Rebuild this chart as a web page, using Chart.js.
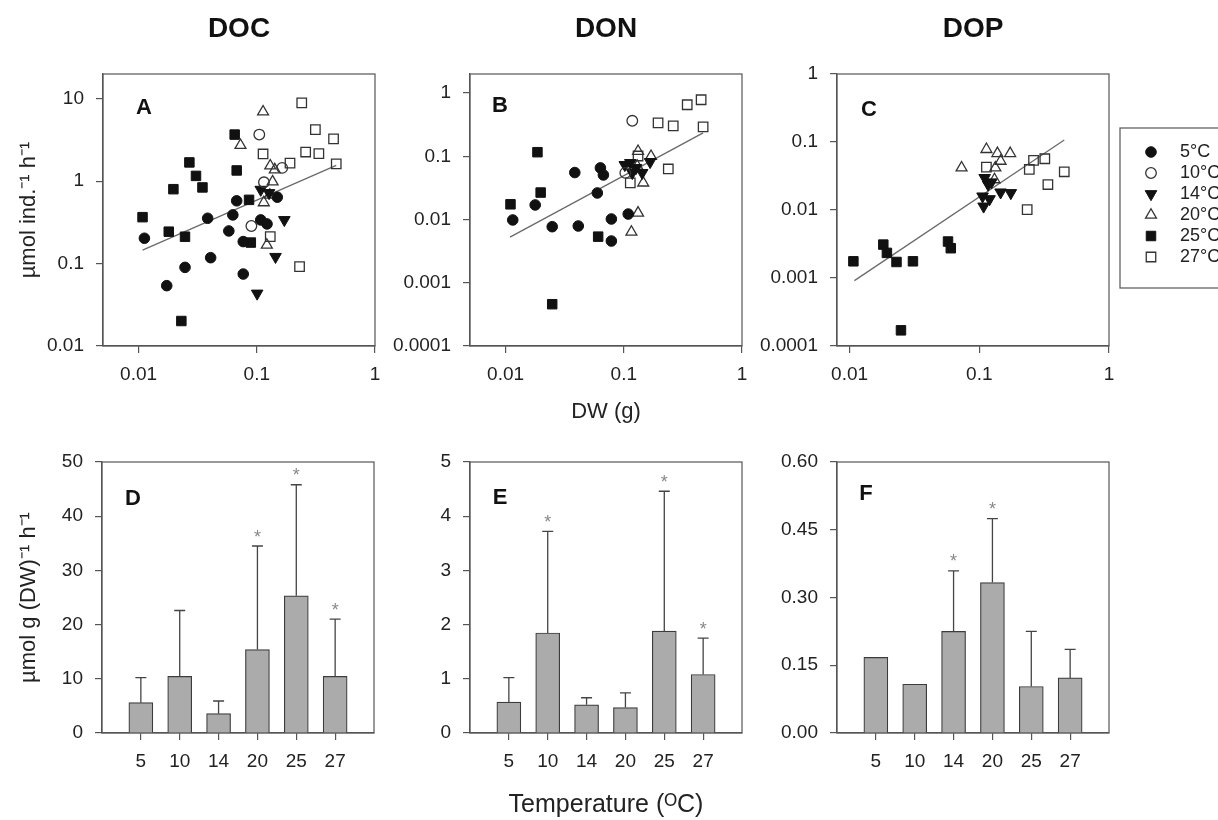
<!DOCTYPE html>
<html>
<head>
<meta charset="utf-8">
<script src="https://cdn.jsdelivr.net/npm/chart.js@4.4.1/dist/chart.umd.min.js"></script>
<style>
  html, body { margin: 0; padding: 0; background: #fff; }
  body { width: 1218px; height: 820px; position: relative; overflow: hidden; }
  canvas { position: absolute; }
</style>
</head>
<body>
<canvas id="panelA" width="415" height="440" style="left:0px;top:0px"></canvas>
<canvas id="panelB" width="402" height="440" style="left:380px;top:0px"></canvas>
<canvas id="panelC" width="490" height="440" style="left:728px;top:0px"></canvas>
<canvas id="panelD" width="414" height="400" style="left:0px;top:420px"></canvas>
<canvas id="panelE" width="402" height="400" style="left:380px;top:420px"></canvas>
<canvas id="panelF" width="421" height="400" style="left:728px;top:420px"></canvas>
<script>
Chart.defaults.font.family = "'Liberation Sans', Arial, sans-serif";
Chart.defaults.color = '#222';

//groups and categories
var groups = ['5°C', '10°C', '14°C', '20°C', '25°C', '27°C'];
var temps = ['5', '10', '14', '20', '25', '27'];

//tick labels
var dwTicks = [0.01, 0.1, 1];
var docTicks = [0.01, 0.1, 1, 10];
var donTicks = [0.0001, 0.001, 0.01, 0.1, 1];
var dopTicks = [0.0001, 0.001, 0.01, 0.1, 1];
var docBarTicks = [0, 10, 20, 30, 40, 50];
var donBarTicks = [0, 1, 2, 3, 4, 5];
var dopBarTicks = [0, 0.15, 0.30, 0.45, 0.60];

//DOC release vs dry weight [DW g, umol ind-1 h-1]
var doc5 = [[0.0112, 0.203], [0.0173, 0.054], [0.0247, 0.090], [0.0384, 0.355], [0.0407, 0.118], [0.058, 0.249], [0.0627, 0.39], [0.0676, 0.578], [0.0768, 0.0747], [0.0768, 0.185], [0.108, 0.339], [0.122, 0.303], [0.149, 0.64]];
var doc10 = [[0.105, 3.68], [0.090, 0.286], [0.115, 0.97], [0.164, 1.45]];
var doc14 = [[0.108, 0.79], [0.127, 0.72], [0.171, 0.339], [0.144, 0.121], [0.1007, 0.0434]];
var doc20 = [[0.113, 6.95], [0.0728, 2.73], [0.130, 1.54], [0.142, 1.38], [0.136, 0.985], [0.1146, 0.55], [0.1216, 0.168], [0.129, 0.68]];
var doc25 = [[0.0108, 0.366], [0.0197, 0.80], [0.018, 0.244], [0.0247, 0.212], [0.0269, 1.69], [0.0306, 1.16], [0.0347, 0.84], [0.023, 0.0201], [0.065, 3.68], [0.0676, 1.35], [0.086, 0.594], [0.089, 0.18]];
var doc27 = [[0.24, 8.94], [0.313, 4.23], [0.446, 3.26], [0.113, 2.14], [0.259, 2.26], [0.335, 2.16], [0.191, 1.66], [0.47, 1.62], [0.130, 0.212], [0.23, 0.0917]];
var docFitX = [0.0108, 0.47];
var docFitY = [0.146, 1.56];

//DON
var don5 = [[0.0115, 0.00984], [0.0178, 0.017], [0.0248, 0.0077], [0.0385, 0.0553], [0.0412, 0.0079], [0.0597, 0.0263], [0.0634, 0.0655], [0.0672, 0.0507], [0.0785, 0.0102], [0.0785, 0.00457], [0.109, 0.0122]];
var don10 = [[0.118, 0.364], [0.103, 0.0546]];
var don14 = [[0.102, 0.073], [0.1135, 0.0786], [0.118, 0.0546], [0.143, 0.0546], [0.167, 0.0815], [0.127, 0.0655]];
var don20 = [[0.132, 0.0127], [0.116, 0.00634], [0.132, 0.12], [0.17, 0.10], [0.146, 0.038], [0.13, 0.07]];
var don25 = [[0.011, 0.0174], [0.0186, 0.116], [0.0198, 0.0267], [0.0248, 0.000458], [0.0607, 0.00536]];
var don27 = [[0.195, 0.338], [0.262, 0.303], [0.344, 0.653], [0.451, 0.783], [0.469, 0.292], [0.238, 0.063], [0.1135, 0.038], [0.132, 0.101]];
var donFitX = [0.0109, 0.469];
var donFitY = [0.00528, 0.235];

//DOP
var dop5 = [];
var dop10 = [];
var dop14 = [[0.106, 0.0159], [0.108, 0.0113], [0.12, 0.0145], [0.11, 0.0297], [0.124, 0.0256], [0.146, 0.0182], [0.175, 0.0178], [0.117, 0.0237]];
var dop20 = [[0.073, 0.0418], [0.1135, 0.078], [0.138, 0.068], [0.173, 0.068], [0.146, 0.0524], [0.133, 0.0418], [0.131, 0.028]];
var dop25 = [[0.0107, 0.00176], [0.0182, 0.0031], [0.0194, 0.00234], [0.023, 0.00172], [0.0308, 0.00176], [0.0249, 0.00017], [0.0574, 0.00344], [0.0603, 0.00274]];
var dop27 = [[0.1135, 0.0427], [0.243, 0.0395], [0.262, 0.0536], [0.32, 0.0567], [0.452, 0.0365], [0.338, 0.0237], [0.234, 0.0101]];
var dopFitX = [0.0109, 0.452];
var dopFitY = [0.000914, 0.107];

//weight specific release by temperature: mean, upper error, significance
var docMean = [5.6, 10.45, 3.57, 15.4, 25.3, 10.45];
var docUpper = [10.2, 22.6, 5.9, 34.5, 45.8, 21.0];
var docSig = [0, 0, 0, 1, 1, 1];
var donMean = [0.57, 1.845, 0.52, 0.47, 1.88, 1.08];
var donUpper = [1.02, 3.72, 0.65, 0.74, 4.46, 1.75];
var donSig = [0, 1, 0, 0, 1, 1];
var dopMean = [0.1675, 0.108, 0.225, 0.333, 0.103, 0.122];
var dopUpper = [null, null, 0.359, 0.4745, 0.225, 0.185];
var dopSig = [0, 0, 1, 1, 0, 0];

var markers = [
  { style: 'circle', radius: 5.3, rotation: 0, fill: '#111', line: '#111', width: 1 },
  { style: 'circle', radius: 5.3, rotation: 0, fill: 'rgba(255,255,255,0)', line: '#333', width: 1.3 },
  { style: 'triangle', radius: 6.7, rotation: 180, fill: '#111', line: '#111', width: 1 },
  { style: 'triangle', radius: 6.3, rotation: 0, fill: 'rgba(255,255,255,0)', line: '#333', width: 1.3 },
  { style: 'rect', radius: 6.7, rotation: 0, fill: '#111', line: '#111', width: 1 },
  { style: 'rect', radius: 6.7, rotation: 0, fill: 'rgba(255,255,255,0)', line: '#333', width: 1.3 }
];

//box around plot area
var frame = {
  id: 'frame',
  beforeDatasetsDraw: function (chart) {
    var a = chart.chartArea, ctx = chart.ctx;
    ctx.save();
    ctx.strokeStyle = '#555';
    ctx.lineWidth = 1.2;
    ctx.strokeRect(a.left, a.top, a.right - a.left, a.bottom - a.top);
    ctx.restore();
  }
};

//A, B, C ... in the corner
var panelLetter = {
  id: 'panelLetter',
  afterDraw: function (chart, args, opts) {
    var a = chart.chartArea, ctx = chart.ctx;
    ctx.save();
    ctx.font = 'bold 22px "Liberation Sans", Arial, sans-serif';
    ctx.fillStyle = '#111';
    ctx.textAlign = 'center';
    ctx.textBaseline = 'middle';
    ctx.fillText(opts.text, a.left + opts.dx, a.top + opts.dy);
    ctx.restore();
  }
};

//boxed legend next to panel C
var legendBox = {
  id: 'legendBox',
  afterDraw: function (chart, args, opts) {
    if (!opts.show) return;
    var ctx = chart.ctx;
    ctx.save();
    ctx.strokeStyle = '#555';
    ctx.lineWidth = 1.2;
    ctx.strokeRect(opts.x, opts.y, opts.w, opts.h);
    ctx.font = '18px "Liberation Sans", Arial, sans-serif';
    ctx.textBaseline = 'middle';
    ctx.textAlign = 'left';
    chart.data.datasets.forEach(function (ds, i) {
      if (ds.isFit) return;
      var y = opts.y + opts.first + i * opts.step;
      ctx.fillStyle = ds.pointBackgroundColor;
      ctx.strokeStyle = ds.pointBorderColor;
      ctx.lineWidth = ds.pointBorderWidth;
      Chart.helpers.drawPoint(ctx, {
        pointStyle: ds.pointStyle, radius: ds.pointRadius,
        rotation: ds.pointRotation, borderWidth: ds.pointBorderWidth
      }, opts.x + opts.mx, y);
      ctx.fillStyle = '#222';
      ctx.fillText(ds.label, opts.x + opts.tx, y);
    });
    ctx.restore();
  }
};

//upper error bars and asterisks
var errorBars = {
  id: 'errorBars',
  afterDatasetsDraw: function (chart, args, opts) {
    var meta = chart.getDatasetMeta(0);
    var ys = chart.scales.y;
    var ctx = chart.ctx;
    ctx.save();
    ctx.strokeStyle = '#444';
    ctx.lineWidth = 1.3;
    ctx.font = '18px "Liberation Sans", Arial, sans-serif';
    ctx.textAlign = 'center';
    ctx.textBaseline = 'alphabetic';
    ctx.fillStyle = '#888';
    opts.upper.forEach(function (u, i) {
      var bar = meta.data[i + 1];
      if (u == null || !bar) return;
      var top = ys.getPixelForValue(u);
      ctx.beginPath();
      ctx.moveTo(bar.x, bar.y);
      ctx.lineTo(bar.x, top);
      ctx.moveTo(bar.x - 5.5, top);
      ctx.lineTo(bar.x + 5.5, top);
      ctx.stroke();
      if (opts.sig[i]) ctx.fillText('*', bar.x, top - 3.5);
    });
    ctx.restore();
  }
};

function axis(pos, size, title, titlePad, titleSize) {
  return {
    position: pos,
    grid: { drawOnChartArea: false, drawTicks: true, tickLength: 7, color: '#555', lineWidth: 1.2, offset: false },
    border: { display: true, color: '#555', width: 1.2 },
    ticks: { font: { size: 19 }, color: '#222', padding: pos === 'left' ? 12 : 10, maxRotation: 0, autoSkip: false },
    title: {
      display: !!title, text: title || '', color: '#222',
      font: { size: titleSize || 22 }, padding: titlePad || 0
    },
    afterFit: function (s) {
      if (pos === 'left') s.width = size; else s.height = size;
    }
  };
}

function fixedTicks(values) {
  return function (s) {
    s.ticks = values.map(function (v) { return { value: v }; });
  };
}

function scatterPanel(id, o) {
  var datasets = o.points.map(function (pts, i) {
    var m = markers[i];
    return {
      label: groups[i],
      data: pts.map(function (p) { return { x: p[0], y: p[1] }; }),
      pointStyle: m.style,
      pointRadius: m.radius,
      pointRotation: m.rotation,
      pointBackgroundColor: m.fill,
      pointBorderColor: m.line,
      pointBorderWidth: m.width
    };
  });
  datasets.push({
    label: 'fit',
    isFit: true,
    data: o.fitX.map(function (x, i) { return { x: x, y: o.fitY[i] }; }),
    showLine: true,
    borderColor: '#6a6a6a',
    borderWidth: 1.3,
    pointRadius: 0
  });

  var x = axis('bottom', 94, o.xTitle, { top: 0, bottom: 14.8 });
  x.type = 'logarithmic';
  x.min = o.xMin;
  x.max = 1;
  x.afterBuildTicks = fixedTicks(dwTicks);
  x.ticks.callback = function (v) { return String(v); };

  var y = axis('left', o.yWidth, o.yTitle, { top: 16, bottom: 0 });
  y.type = 'logarithmic';
  y.min = o.yMin;
  y.max = o.yMax;
  y.afterBuildTicks = fixedTicks(o.yTicks);
  y.ticks.callback = function (v) { return String(v); };

  return new Chart(document.getElementById(id), {
    type: 'scatter',
    data: { datasets: datasets },
    plugins: [frame, panelLetter, legendBox],
    options: {
      responsive: false,
      animation: false,
      events: [],
      layout: { padding: { left: 0, top: 0, bottom: 0, right: o.padRight } },
      plugins: {
        legend: { display: false },
        tooltip: { enabled: false },
        title: {
          display: true, text: o.title, fullSize: false, color: '#111',
          font: { size: 28, weight: 'bold' }, padding: { top: 12, bottom: 28.4 }
        },
        panelLetter: { text: o.letter, dx: o.letterPos[0], dy: o.letterPos[1] },
        legendBox: o.legend || { show: false }
      },
      scales: { x: x, y: y }
    }
  });
}

function barPanel(id, o) {
  var labels = [''].concat(temps, ['']);
  var x = axis('bottom', 87, o.xTitle, { top: 0, bottom: 0 }, 25);
  x.type = 'category';
  x.offset = false;
  x.afterBuildTicks = function (s) { s.ticks = s.ticks.slice(1, -1); };

  var y = axis('left', o.yWidth, o.yTitle, { top: 16, bottom: 0 });
  y.type = 'linear';
  y.min = 0;
  y.max = o.yTicks[o.yTicks.length - 1];
  y.afterBuildTicks = fixedTicks(o.yTicks);
  y.ticks.callback = function (v) { return o.decimals ? v.toFixed(o.decimals) : String(v); };

  return new Chart(document.getElementById(id), {
    type: 'bar',
    data: {
      labels: labels,
      datasets: [{
        data: [null].concat(o.mean, [null]),
        backgroundColor: '#ababab',
        borderColor: '#3c3c3c',
        borderWidth: 1.2,
        barThickness: 24
      }]
    },
    plugins: [frame, panelLetter, errorBars],
    options: {
      responsive: false,
      animation: false,
      events: [],
      layout: { padding: { left: 0, top: 42, bottom: 0, right: 40 } },
      plugins: {
        legend: { display: false },
        tooltip: { enabled: false },
        panelLetter: { text: o.letter, dx: o.letterPos[0], dy: o.letterPos[1] },
        errorBars: { upper: o.upper, sig: o.sig }
      },
      scales: { x: x, y: y }
    }
  });
}

scatterPanel('panelA', {
  title: 'DOC', letter: 'A', letterPos: [41, 34],
  points: [doc5, doc10, doc14, doc20, doc25, doc27], fitX: docFitX, fitY: docFitY,
  xMin: 0.005, yMin: 0.01, yMax: 20, yTicks: docTicks, yWidth: 103, padRight: 40,
  yTitle: 'µmol ind.⁻¹ h⁻¹'
});

scatterPanel('panelB', {
  title: 'DON', letter: 'B', letterPos: [30, 32],
  points: [don5, don10, don14, don20, don25, don27], fitX: donFitX, fitY: donFitY,
  xMin: 0.005, yMin: 0.0001, yMax: 2, yTicks: donTicks, yWidth: 90, padRight: 40,
  xTitle: 'DW (g)'
});

scatterPanel('panelC', {
  title: 'DOP', letter: 'C', letterPos: [32, 36],
  points: [dop5, dop10, dop14, dop20, dop25, dop27], fitX: dopFitX, fitY: dopFitY,
  xMin: 0.008, yMin: 0.0001, yMax: 1, yTicks: dopTicks, yWidth: 109, padRight: 109,
  legend: { show: true, x: 392, y: 128, w: 115, h: 160, mx: 31, tx: 60, first: 24, step: 21 }
});

barPanel('panelD', {
  letter: 'D', letterPos: [31, 37], mean: docMean, upper: docUpper, sig: docSig,
  yTicks: docBarTicks, yWidth: 102, yTitle: 'µmol g (DW)⁻¹ h⁻¹'
});

barPanel('panelE', {
  letter: 'E', letterPos: [30, 36], mean: donMean, upper: donUpper, sig: donSig,
  yTicks: donBarTicks, yWidth: 90, xTitle: 'Temperature (ᴼC)'
});

barPanel('panelF', {
  letter: 'F', letterPos: [29, 32], mean: dopMean, upper: dopUpper, sig: dopSig,
  yTicks: dopBarTicks, yWidth: 109, decimals: 2
});
</script>
</body>
</html>
